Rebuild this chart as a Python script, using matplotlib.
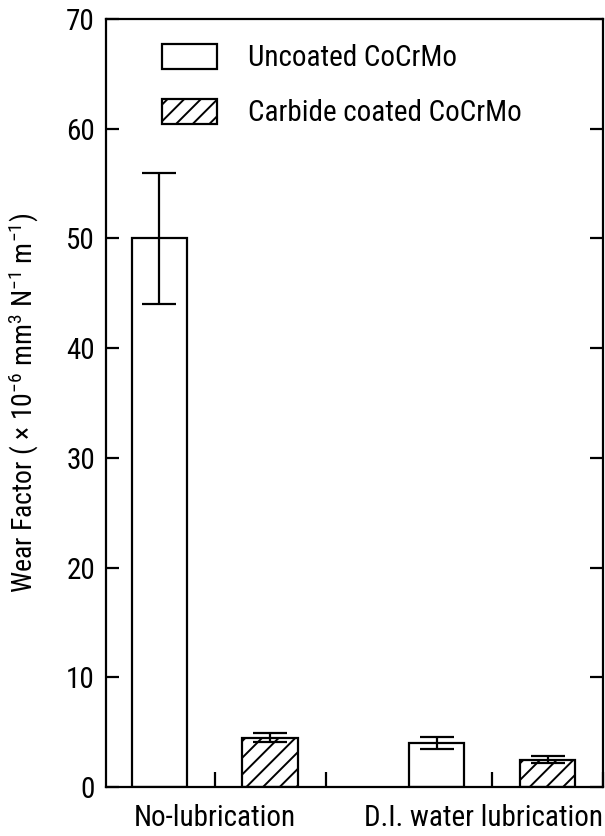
import matplotlib
matplotlib.use('Agg')
import matplotlib.pyplot as plt

# Data
groups = ['No-lubrication', 'D.I. water lubrication']
series = ['Uncoated CoCrMo', 'Carbide coated CoCrMo']
uncoated = [50.0, 4.0]
uncoated_err = [6.0, 0.55]
coated = [4.5, 2.5]
coated_err = [0.4, 0.32]

# condensed font like the original print
fam = 'Roboto Condensed'
plt.rcParams['font.family'] = [fam, 'DejaVu Sans']
plt.rcParams['mathtext.fontset'] = 'custom'
plt.rcParams['mathtext.rm'] = fam
plt.rcParams['mathtext.it'] = fam
plt.rcParams['hatch.linewidth'] = 1.4
fs = 21

fig = plt.figure(figsize=(6.05, 8.36), dpi=100)
ax = fig.add_axes([0.1752, 0.0586, 0.8215, 0.9187])

# bar positions: two bars per group, groups spaced wider
group_pos = [0.0, 2.5]
w = 0.5
x_unc = [g for g in group_pos]
x_cot = [g + 1.0 for g in group_pos]

err_kw = dict(elinewidth=1.6, capthick=1.6, capsize=12.5, ecolor='black')
ax.bar(x_unc, uncoated, w, yerr=uncoated_err, color='white', edgecolor='black',
       linewidth=1.6, label=series[0], error_kw=err_kw, zorder=2)
ax.bar(x_cot, coated, w, yerr=coated_err, color='white', edgecolor='black',
       linewidth=1.6, hatch='//', label=series[1], error_kw=err_kw, zorder=2)

ax.set_xlim(-0.48, 4.0)
ax.set_ylim(0, 70)
ax.set_yticks(range(0, 71, 10))

# short inward ticks between bars, group names as labels
ax.xaxis.remove_overlapping_locs = False
ax.set_xticks([g + 0.5 for g in group_pos] + [g + 1.5 for g in group_pos], minor=True)
ax.set_xticks([0.5, 2.92])
ax.set_xticklabels(groups, fontsize=fs)
ax.tick_params(axis='x', which='major', length=0, pad=12)
ax.tick_params(axis='x', which='minor', direction='in', length=11, width=1.6)
ax.tick_params(axis='y', which='major', direction='in', length=9.5, width=1.6,
               right=True, labelsize=fs, pad=8)

for s in ax.spines.values():
    s.set_linewidth(1.6)

ax.set_ylabel(r'Wear Factor ( × 10$^{-6}$ mm$^{3}$ N$^{-1}$ m$^{-1}$)', fontsize=20)
ax.yaxis.set_label_coords(-0.131, 0.5)

ax.legend(loc='upper left', bbox_to_anchor=(0.112, 0.968), frameon=False,
          fontsize=fs, handlelength=1.9, handleheight=0.97, labelspacing=0.9,
          handletextpad=1.05, borderpad=0, borderaxespad=0)

plt.savefig('out.png', dpi=100)
